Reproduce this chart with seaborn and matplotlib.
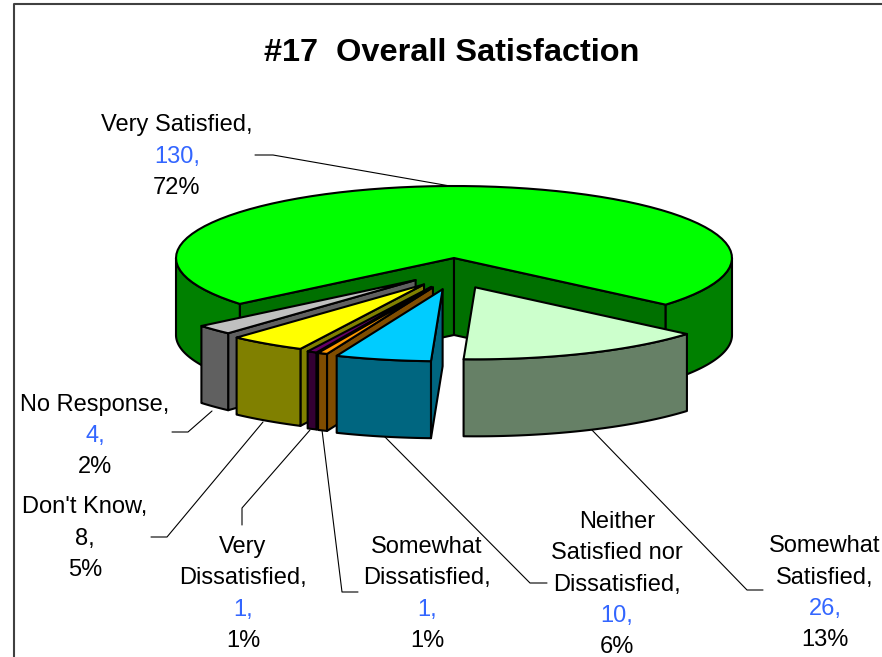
import numpy as np
from matplotlib import pyplot as plt
import seaborn as sns

# ---- data, clockwise from the back of the pie
categories=['Very Satisfied','Somewhat Satisfied','Neither Satisfied nor Dissatisfied','Somewhat Dissatisfied','Very Dissatisfied',"Don't Know",'No Response']
counts=[130,26,10,1,1,8,4]
percent_labels=['72%','13%','6%','1%','1%','5%','2%']

top_colors=['#00FF00','#CCFFCC','#00CCFF','#FF9900','#660066','#FFFF00','#C0C0C0']
side_colors=['#008000','#668066','#006680','#804D00','#330033','#808000','#606060']
face_colors=['#007000','#668066','#006680','#804D00','#330033','#808000','#606060']

# ---- pie geometry, in pixels of the picture
CX,CY=454,258
RX,RY=278,72
DEPTH=77
START=230.4
EXPLODE=[(0,0),(53,32),(53,32),(53,32),(53,32),(53,32),(53,32)]
DRAW_ORDER=[0,6,5,4,3,2,1]

sns.set_theme(style='white')
plt.rcParams['font.family']=['Liberation Sans','DejaVu Sans']

fig=plt.figure(figsize=(8.82,6.57),dpi=100)
ax=fig.add_axes([0,0,1,1])
ax.set_xlim(0,882)
ax.set_ylim(657,0)
ax.axis('off')

def rim(cx,cy,a,b,n=80):
    t=np.radians(np.linspace(a,b,n))
    return cx+RX*np.sin(t),cy-RY*np.cos(t)

def poly(x,y,color,z):
    ax.fill(x,y,facecolor=color,edgecolor='black',linewidth=1.5,joinstyle='round',zorder=z)

shares=np.array(counts)/sum(counts)*360
ends=START+np.cumsum(shares)
starts=ends-shares

z=2
for i in DRAW_ORDER:
    a,b=starts[i],ends[i]
    mid=np.radians((a+b)/2)
    cx=CX+EXPLODE[i][0]*np.sin(mid)
    cy=CY-EXPLODE[i][1]*np.cos(mid)
    # cut faces, only those turned towards the viewer
    for edge,sign in ((a,-1),(b,1)):
        if sign*np.sin(np.radians(edge))>0:
            ex,ey=rim(cx,cy,edge,edge,1)
            poly([cx,ex[0],ex[0],cx],[cy,ey[0],ey[0]+DEPTH,cy+DEPTH],face_colors[i],z)
            z+=1
    # outer wall, front half only
    for k in (0,1):
        lo=max(a,90+360*k)
        hi=min(b,270+360*k)
        if lo<hi:
            x,y=rim(cx,cy,lo,hi)
            poly(np.r_[x,x[::-1]],np.r_[y,y[::-1]+DEPTH],side_colors[i],z)
            z+=1
    x,y=rim(cx,cy,a,b)
    poly(np.r_[cx,x],np.r_[cy,y],top_colors[i],z)
    z+=1

# ---- leader lines
leaders=[
    [(255,155),(273,155),(450,186)],
    [(763,590),(747,590),(590,428)],
    [(547,583),(530,583),(383,435)],
    [(358,592),(342,592),(322,430)],
    [(242,525),(242,508),(310,430)],
    [(151,537),(167,537),(263,422)],
    [(172,432),(188,432),(212,411)],
]
for pts in leaders:
    ax.plot(*zip(*pts),color='black',linewidth=0.8,zorder=1)

# ---- labels
LINE=31.3
name_lines=[['Very Satisfied,'],['Somewhat','Satisfied,'],['Neither','Satisfied nor','Dissatisfied,'],['Somewhat','Dissatisfied,'],['Very','Dissatisfied,'],["Don't Know,"],['No Response,']]
label_pos=[(177,125.5),(825,546.5),(617,522),(427,547),(243,547),(85,507.5),(95,404.5)]
for i in range(len(categories)):
    lx,ly=label_pos[i]
    rows=[(t,'black') for t in name_lines[i]]
    rows.append((str(counts[i])+',','black' if i==5 else '#3366FF'))
    rows.append((percent_labels[i],'black'))
    for j,(t,c) in enumerate(rows):
        ax.text(lx,ly+j*LINE,t,color=c,fontsize=17,ha='center',va='center',clip_on=False)

ax.text(452,53,'#17  Overall Satisfaction',fontsize=23.4,fontweight='bold',color='black',ha='center',va='center')

# ---- chart frame
ax.plot([14,14,882],[657,4,4],color='#404040',linewidth=1.5,zorder=1)

plt.savefig('out.png',dpi=100)
